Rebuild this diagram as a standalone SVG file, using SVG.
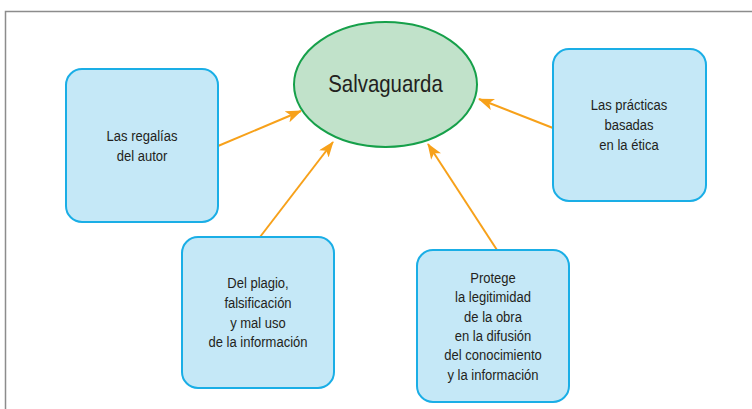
<svg xmlns="http://www.w3.org/2000/svg" width="752" height="409" viewBox="0 0 752 409">
<defs>
<style>
.box{fill:#c5e8f7;stroke:#1aaee6;stroke-width:2}
.t{font-family:"Liberation Sans",Arial,sans-serif;font-size:15.5px;fill:#231f20;text-anchor:middle}
.c{stroke:#f7a11a;stroke-width:2;fill:none;marker-end:url(#ah)}
</style>
<marker id="ah" viewBox="0 0 16 12" refX="15" refY="6" markerWidth="16" markerHeight="12" markerUnits="userSpaceOnUse" orient="auto">
<path d="M0,0 L16,6 L0,12 L4,6 Z" fill="#f7a11a"/>
</marker>
</defs>
<rect width="752" height="409" fill="#fff"/>
<path d="M5.5,409 V11.5 H752" fill="none" stroke="#8c8c8c" stroke-width="1.5"/>
<g id="connectors">
<line class="c" x1="218" y1="146" x2="301" y2="111"/>
<line class="c" x1="260" y1="237" x2="333" y2="142"/>
<line class="c" x1="497" y1="250" x2="428" y2="144"/>
<line class="c" x1="553" y1="128" x2="479" y2="99"/>
</g>
<g id="salvaguarda">
<ellipse cx="385.5" cy="84.5" rx="91.5" ry="62.5" fill="#c1e2ca" stroke="#16a04a" stroke-width="2"/>
<text class="t" transform="translate(385.5,92) scale(0.85,1)" style="font-size:24px">Salvaguarda</text>
</g>
<g id="regalias">
<rect class="box" x="66" y="69" width="152" height="153" rx="16"/>
<g transform="translate(142,0) scale(0.84,1)">
<text class="t" x="0" y="141">Las regalías</text>
<text class="t" x="0" y="161">del autor</text>
</g>
</g>
<g id="practicas">
<rect class="box" x="553" y="49" width="153" height="152" rx="16"/>
<g transform="translate(629,0) scale(0.84,1)">
<text class="t" x="0" y="110">Las prácticas</text>
<text class="t" x="0" y="130">basadas</text>
<text class="t" x="0" y="150">en la ética</text>
</g>
</g>
<g id="plagio">
<rect class="box" x="182" y="237" width="152" height="151" rx="16"/>
<g transform="translate(258,0) scale(0.84,1)">
<text class="t" x="0" y="288">Del plagio,</text>
<text class="t" x="0" y="308">falsificación</text>
<text class="t" x="0" y="328">y mal uso</text>
<text class="t" x="0" y="347">de la información</text>
</g>
</g>
<g id="protege">
<rect class="box" x="417" y="250" width="152" height="152" rx="16"/>
<g transform="translate(493,0) scale(0.84,1)">
<text class="t" x="0" y="283">Protege</text>
<text class="t" x="0" y="302.5">la legitimidad</text>
<text class="t" x="0" y="322">de la obra</text>
<text class="t" x="0" y="341">en la difusión</text>
<text class="t" x="0" y="360.5">del conocimiento</text>
<text class="t" x="0" y="380">y la información</text>
</g>
</g>
</svg>
